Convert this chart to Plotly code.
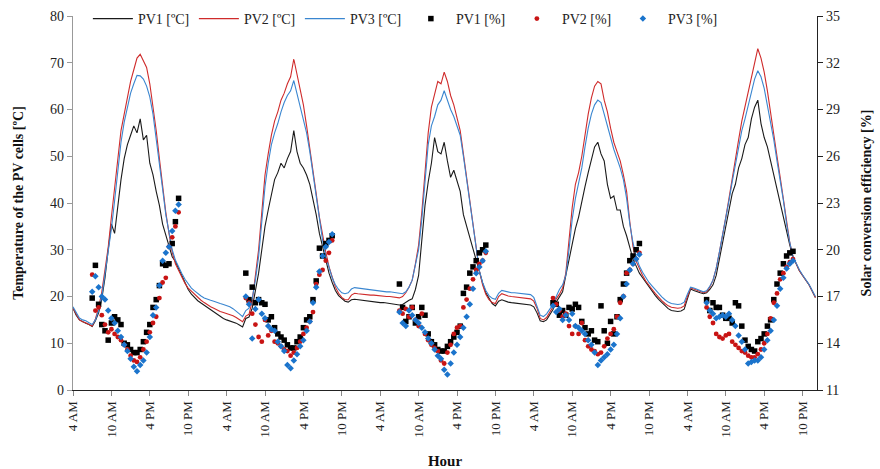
import numpy as np
import plotly.graph_objects as go

FONT = "Liberation Serif"

# Half-hourly cell temperatures, starting 4 AM on day 1 (hours counted from midnight of day 1)
hours = np.arange(4.0, 120.01, 0.5)

pv1_temp = [
    17.5, 16.0, 15.0, 14.6, 14.3, 14.0, 13.6, 14.8, 16.5, 19.5, 24.0, 30.0,
    35.5, 33.5, 40.0, 45.0, 49.5, 52.5, 54.5, 56.5, 55.0, 58.0, 53.5, 54.5,
    48.5, 46.0, 42.5, 39.5, 35.5, 33.0, 30.5, 28.5, 27.5, 26.0, 24.5, 23.0,
    21.5, 20.5, 19.7, 19.1, 18.6, 18.1, 17.6, 17.1, 16.6, 16.1, 15.7, 15.3,
    15.0, 14.8, 14.6, 14.3, 13.9, 13.5, 15.3, 15.6, 17.5, 21.0, 25.0, 30.0,
    35.0, 38.5, 42.0, 45.0, 46.5, 48.5, 47.5, 49.5, 51.0, 55.5, 51.0, 48.5,
    47.5, 46.0, 44.0, 41.0, 37.5, 33.5, 30.5, 27.5, 25.0, 23.0, 21.3, 20.2,
    19.5, 19.0, 18.8, 19.3, 19.4, 19.3, 19.2, 19.1, 19.0, 18.9, 18.8, 18.8,
    18.7, 18.7, 18.6, 18.6, 18.5, 18.4, 18.2, 18.3, 18.8, 19.2, 19.5, 21.5,
    24.5, 33.0, 39.5, 44.5, 48.5, 54.0, 51.0, 50.5, 53.0, 49.0, 45.5, 47.0,
    44.5, 42.5, 37.5, 35.0, 33.0, 30.5, 27.8, 25.0, 22.9, 20.8, 19.5, 18.5,
    18.0, 19.0, 19.3, 19.0, 18.8, 18.7, 18.6, 18.6, 18.5, 18.4, 18.3, 18.2,
    17.8, 16.5, 14.8, 14.6, 15.0, 16.0, 17.2, 18.8, 19.8, 21.0, 24.5, 28.0,
    31.0, 34.5, 37.0, 40.5, 43.5, 46.5, 49.5, 52.0, 53.0, 50.5, 49.0, 44.0,
    41.0, 41.5, 38.5, 38.5, 35.0, 33.0, 30.5, 28.0, 26.5, 25.0, 24.0, 23.0,
    22.0, 21.0, 20.2, 19.4, 18.7, 18.0, 17.4, 17.0, 16.9, 16.8, 16.9, 17.3,
    19.5, 21.6, 21.3, 21.0, 20.8, 20.6, 20.8, 21.5, 22.5, 24.5, 28.0, 31.5,
    35.0, 38.5, 42.0, 44.0, 47.5, 49.5, 52.5, 54.0, 58.0, 60.5, 62.0, 57.0,
    54.0, 52.0, 49.0, 46.0, 43.0, 39.5, 36.5, 33.5, 31.0, 28.5, 26.8, 25.5,
    24.5, 23.5, 22.5, 21.2, 19.8,
]

pv2_temp = [
    17.5, 16.2, 15.0, 14.6, 14.4, 14.0, 13.7, 15.2, 17.5, 21.0, 25.5, 30.5,
    37.0, 43.5, 50.5, 55.5, 59.0, 62.5, 66.0, 68.5, 71.0, 71.8, 70.5, 69.0,
    65.5, 60.6, 55.5, 49.5, 43.5, 38.0, 33.5, 29.5, 27.0, 25.5, 24.0, 22.8,
    21.8, 21.1, 20.4, 19.7, 19.2, 18.7, 18.2, 17.8, 17.5, 17.1, 16.8, 16.6,
    16.4, 16.2, 15.9, 15.5, 15.0, 14.6, 15.8, 16.2, 19.0, 24.0, 30.0, 38.0,
    46.0, 50.5, 54.5, 57.5, 59.5, 62.0, 63.5, 65.5, 67.0, 70.8, 67.5, 64.5,
    61.0, 56.5, 52.0, 47.0, 42.0, 37.0, 33.0, 29.5, 26.4, 24.0, 22.0, 20.7,
    19.8, 19.3, 19.3, 20.3, 20.7, 20.6, 20.5, 20.5, 20.4, 20.3, 20.3, 20.2,
    20.2, 20.1, 20.0, 20.0, 19.9, 19.8, 19.7, 20.0, 20.8, 22.0, 23.5, 27.0,
    31.0, 38.0, 47.0, 55.0, 60.5, 63.0, 66.0, 65.5, 68.0, 66.0, 63.0, 61.0,
    58.5, 55.5, 50.5, 45.5, 40.0, 35.0, 30.0, 25.5, 22.5, 20.5, 19.3, 18.7,
    18.5, 20.0, 20.6, 20.3, 20.1, 20.0, 19.9, 19.9, 19.8, 19.7, 19.6, 19.5,
    19.0, 17.5, 15.3, 15.0, 15.5, 16.8, 17.8, 19.5, 20.5, 21.8, 25.0, 32.0,
    39.0, 44.0, 46.5, 50.0, 55.0, 59.0, 62.5, 65.0, 66.0, 65.5, 62.0, 59.5,
    56.0, 53.0, 51.0, 49.0, 46.0, 42.5, 36.0, 30.7, 27.5, 25.8, 24.5, 23.3,
    22.3, 21.5, 20.6, 19.8, 19.1, 18.5, 18.0, 17.7, 17.6, 17.5, 17.6, 18.0,
    20.0, 21.8, 21.6, 21.3, 21.0, 20.8, 21.0, 22.0, 23.5, 26.0, 29.5, 33.0,
    37.0, 41.0, 45.5, 49.5, 53.5, 57.5, 60.5, 63.5, 66.5, 70.0, 73.0, 71.0,
    68.0, 64.0, 59.0, 55.0, 50.0, 45.5, 41.0, 36.0, 31.5, 28.5, 26.8, 25.5,
    24.5, 23.6, 22.5, 21.2, 19.8,
]

pv3_temp = [
    17.8, 16.5, 15.4, 15.0, 14.8, 14.4, 14.0, 15.0, 17.0, 20.0, 24.5, 29.5,
    34.5, 40.5, 47.5, 53.0, 57.3, 60.5, 63.5, 65.5, 67.3, 67.2, 66.5, 65.0,
    62.7, 59.0, 54.0, 48.0, 43.0, 37.5, 33.5, 30.0, 27.8, 26.3, 24.9, 23.7,
    22.6, 21.8, 21.2, 20.6, 20.1, 19.7, 19.4, 19.2, 19.0, 18.7, 18.5, 18.3,
    18.1, 17.8, 17.4, 16.9, 16.3, 15.7, 17.0, 17.5, 19.5, 23.5, 28.5, 36.0,
    43.5, 48.5, 52.5, 55.0, 57.0, 59.5, 61.5, 63.0, 64.0, 66.2, 63.5, 61.0,
    58.0, 55.0, 51.0, 46.0, 41.0, 36.5, 32.0, 28.5, 26.0, 24.0, 22.5, 21.5,
    20.8, 20.6, 20.8, 21.6, 21.9, 21.8, 21.7, 21.6, 21.6, 21.5, 21.4, 21.3,
    21.2, 21.1, 21.0, 21.0, 20.9, 20.8, 20.6, 20.6, 21.0, 22.0, 23.5, 26.5,
    30.0, 36.5, 45.5, 52.5, 56.5, 58.5, 61.0, 62.0, 64.0, 62.0, 60.0, 58.5,
    56.5, 54.5, 50.0, 45.0, 39.5, 34.5, 29.5, 25.5, 23.0, 21.3, 20.2, 19.6,
    19.4, 20.7, 21.3, 21.1, 20.9, 20.8, 20.8, 20.7, 20.7, 20.6, 20.5, 20.4,
    19.8, 18.0, 16.0, 15.7, 16.3, 17.3, 18.3, 20.0, 21.5, 22.5, 24.5, 30.0,
    36.5, 41.0, 44.0, 47.5, 52.0, 56.0, 59.0, 61.0, 62.0, 61.5, 59.0, 56.5,
    53.5, 51.5, 49.5, 47.5, 45.0, 41.0, 35.5, 31.5, 28.5, 26.5, 25.2, 24.0,
    23.0, 22.2, 21.4, 20.6, 19.9, 19.3, 18.8, 18.5, 18.4, 18.3, 18.4, 18.8,
    20.5, 22.0, 21.8, 21.5, 21.2, 21.0, 21.2, 22.2, 23.5, 26.0, 29.5, 33.0,
    37.0, 40.5, 44.5, 48.0, 52.0, 55.5, 58.0, 61.0, 64.0, 66.5, 68.3, 67.0,
    64.5, 61.0, 57.0, 53.5, 49.0, 45.0, 40.5, 35.5, 31.5, 28.5, 27.0, 25.7,
    24.6, 23.6, 22.6, 21.3, 20.0,
]

# Solar conversion efficiency, every half hour from 7 AM to 8:30 PM on each of the five days
eff_clock = np.arange(7.0, 20.51, 0.5)
n_days = 5

pv1_eff = [
    16.9, 19.0, 16.5, 15.2, 14.8, 14.2, 15.3, 15.7, 15.5, 15.2, 14.0, 13.9, 13.6, 13.4,
    13.4, 13.6, 14.1, 14.7, 15.2, 16.3, 16.8, 17.7, 19.1, 19.0, 19.1, 20.4, 21.8, 23.3,
    18.5, 16.8, 17.6, 16.6, 16.8, 16.6, 16.5, 15.5, 15.7, 15.0, 14.6, 14.4, 14.2, 13.9,
    13.7, 13.7, 14.1, 14.4, 15.0, 15.5, 15.7, 16.8, 18.0, 20.1, 19.6, 20.4, 20.6, 20.9,
    17.8, 16.3, 15.4, 15.7, 16.3, 15.3, 15.7, 16.3, 15.8, 14.6, 14.1, 13.9, 13.6, 13.5,
    13.5, 13.8, 14.1, 14.4, 14.7, 15.1, 17.2, 17.6, 18.5, 18.9, 19.3, 19.8, 20.0, 20.3,
    16.6, 16.5, 15.8, 16.1, 15.8, 16.3, 16.2, 16.5, 16.3, 15.4, 15.0, 14.6, 14.8, 14.2,
    14.1, 16.4, 14.8, 14.0, 15.4, 14.6, 15.7, 16.8, 17.8, 18.5, 19.3, 19.6, 20.0, 20.4,
    16.8, 16.1, 16.6, 16.3, 16.3, 15.8, 15.6, 15.6, 15.3, 16.6, 16.4, 15.1, 14.2, 13.8,
    13.6, 13.5, 14.1, 14.3, 14.6, 15.1, 15.5, 16.8, 17.8, 18.5, 19.1, 19.6, 19.8, 19.9,
]

pv2_eff = [
    18.4, 16.1, 16.3, 15.8, 15.2, 14.7, 14.9, 14.6, 14.4, 14.2, 13.9, 13.6, 13.2, 12.9,
    12.8, 13.1, 13.6, 14.1, 14.7, 15.3, 15.7, 16.9, 17.9, 18.2, 20.2, 20.8, 21.5, 22.4,
    16.9, 16.6, 15.9, 15.2, 14.4, 14.1, 15.5, 14.5, 14.8, 14.1, 14.0, 13.8, 13.6, 13.5,
    13.2, 13.4, 13.7, 14.1, 14.6, 15.0, 15.4, 16.0, 17.8, 18.4, 18.7, 19.3, 19.8, 20.6,
    16.1, 15.9, 16.2, 15.7, 16.3, 15.5, 15.1, 15.9, 14.6, 14.2, 13.9, 13.7, 13.5, 12.9,
    12.7, 13.4, 13.9, 14.6, 15.0, 15.1, 16.3, 16.8, 17.5, 18.1, 18.7, 19.1, 19.3, 19.8,
    16.9, 16.5, 16.1, 15.7, 15.9, 15.1, 14.6, 15.1, 14.6, 15.3, 14.2, 13.8, 13.6, 13.5,
    13.3, 13.4, 13.8, 14.3, 14.6, 14.9, 15.7, 16.6, 17.0, 18.5, 18.7, 19.1, 19.4, 19.8,
    16.3, 15.7, 15.3, 14.6, 14.4, 14.3, 14.5, 14.6, 14.1, 13.9, 13.7, 13.5, 13.4, 13.2,
    13.1, 13.1, 13.3, 13.6, 14.0, 14.6, 15.6, 16.6, 17.2, 18.1, 18.5, 18.9, 19.2, 19.4,
]

pv3_eff = [
    17.3, 18.3, 17.6, 17.0, 16.8, 16.1, 15.6, 15.3, 14.8, 14.4, 13.9, 13.5, 13.0, 12.5,
    12.2, 12.6, 12.9, 13.4, 14.4, 15.8, 16.3, 17.7, 19.3, 19.8, 20.2, 21.2, 22.5, 22.9,
    17.0, 16.5, 14.3, 16.2, 16.8, 15.9, 15.6, 15.1, 14.9, 14.8, 14.1, 13.8, 13.5, 12.6,
    12.4, 12.9, 13.3, 13.8, 14.2, 14.8, 15.4, 16.6, 17.6, 18.6, 19.6, 20.2, 20.5, 21.0,
    16.0, 15.3, 15.1, 16.1, 15.8, 15.5, 15.3, 15.0, 14.7, 14.3, 14.0, 13.6, 13.2, 13.0,
    12.3, 12.0, 12.7, 13.4, 13.9, 14.4, 15.0, 15.7, 16.5, 17.5, 18.5, 18.9, 19.3, 19.9,
    16.4, 16.0, 16.2, 15.5, 15.8, 15.5, 15.9, 15.1, 15.0, 14.8, 14.6, 14.2, 13.9, 13.4,
    12.6, 12.9, 13.1, 13.3, 13.6, 13.9, 14.6, 15.6, 17.0, 17.8, 18.7, 19.1, 19.4, 19.7,
    16.6, 16.1, 15.9, 15.6, 15.7, 15.8, 15.7, 15.9, 15.5, 15.1, 14.5, 14.1, 13.6, 12.7,
    12.8, 12.9, 12.9, 13.1, 13.6, 14.2, 14.8, 15.5, 16.4, 17.5, 18.2, 18.8, 19.1, 19.3,
]

eff_hours = np.concatenate([eff_clock + 24 * d for d in range(n_days)])

tick_hours = list(range(4, 119, 6))
tick_labels = ["4 AM", "10 AM", "4 PM", "10 PM"] * n_days

fig = go.Figure()

line_series = [
    ("PV1 [ºC]", pv1_temp, "#1a1a1a"),
    ("PV2 [ºC]", pv2_temp, "#cf2b2b"),
    ("PV3 [ºC]", pv3_temp, "#3a86d0"),
]
for name, vals, color in line_series:
    fig.add_trace(go.Scatter(
        x=hours, y=vals, mode="lines", name=name,
        line=dict(color=color, width=1.1),
    ))

marker_series = [
    ("PV1 [%]", pv1_eff, "#000000", "square", 5.5),
    ("PV2 [%]", pv2_eff, "#c81414", "circle", 4.8),
    ("PV3 [%]", pv3_eff, "#1b74cc", "diamond", 5),
]
for name, vals, color, symbol, size in marker_series:
    fig.add_trace(go.Scatter(
        x=eff_hours, y=vals, mode="markers", name=name, yaxis="y2",
        marker=dict(color=color, symbol=symbol, size=size, line=dict(width=0)),
    ))

fig.update_layout(
    width=880, height=469,
    margin=dict(l=73, r=63, t=16, b=79, autoexpand=False),
    paper_bgcolor="white", plot_bgcolor="white",
    font=dict(family=FONT, size=14, color="#222"),
    showlegend=True,
    legend=dict(
        orientation="h", x=0.02, y=0.992, xanchor="left", yanchor="middle",
        font=dict(family=FONT, size=14, color="#222"),
        bgcolor="rgba(0,0,0,0)", entrywidth=51, entrywidthmode="pixels",
        itemwidth=40, tracegroupgap=0,
    ),
    xaxis=dict(
        range=[4, 120.25], tickmode="array", tickvals=tick_hours, ticktext=tick_labels,
        tickangle=-90, ticks="outside", ticklen=5, tickcolor="#888",
        showline=True, linecolor="#222", linewidth=1.2, showgrid=False, zeroline=False,
        tickfont=dict(family=FONT, size=13, color="#222"),
        title=dict(text="<b>Hour</b>", font=dict(family=FONT, size=15, color="#111"), standoff=18),
    ),
    yaxis=dict(
        range=[0, 80], dtick=10, ticks="outside", ticklen=5, tickcolor="#999",
        showline=True, linecolor="#999", linewidth=1.2, showgrid=False, zeroline=False,
        tickfont=dict(family=FONT, size=14, color="#222"),
        title=dict(text="<b>Temperature of the PV cells [ºC]</b>",
                   font=dict(family=FONT, size=14, color="#111"), standoff=23),
    ),
    yaxis2=dict(
        range=[11, 35], tickmode="array", tickvals=list(range(11, 36, 3)),
        overlaying="y", side="right", ticks="outside", ticklen=5, tickcolor="#222",
        showline=True, linecolor="#222", linewidth=1.2, showgrid=False, zeroline=False,
        tickfont=dict(family=FONT, size=14, color="#222"),
        title=dict(text="<b>Solar conversion efficiency [%]</b>",
                   font=dict(family=FONT, size=14, color="#111"), standoff=22),
    ),
)

fig.write_html("out.html")
